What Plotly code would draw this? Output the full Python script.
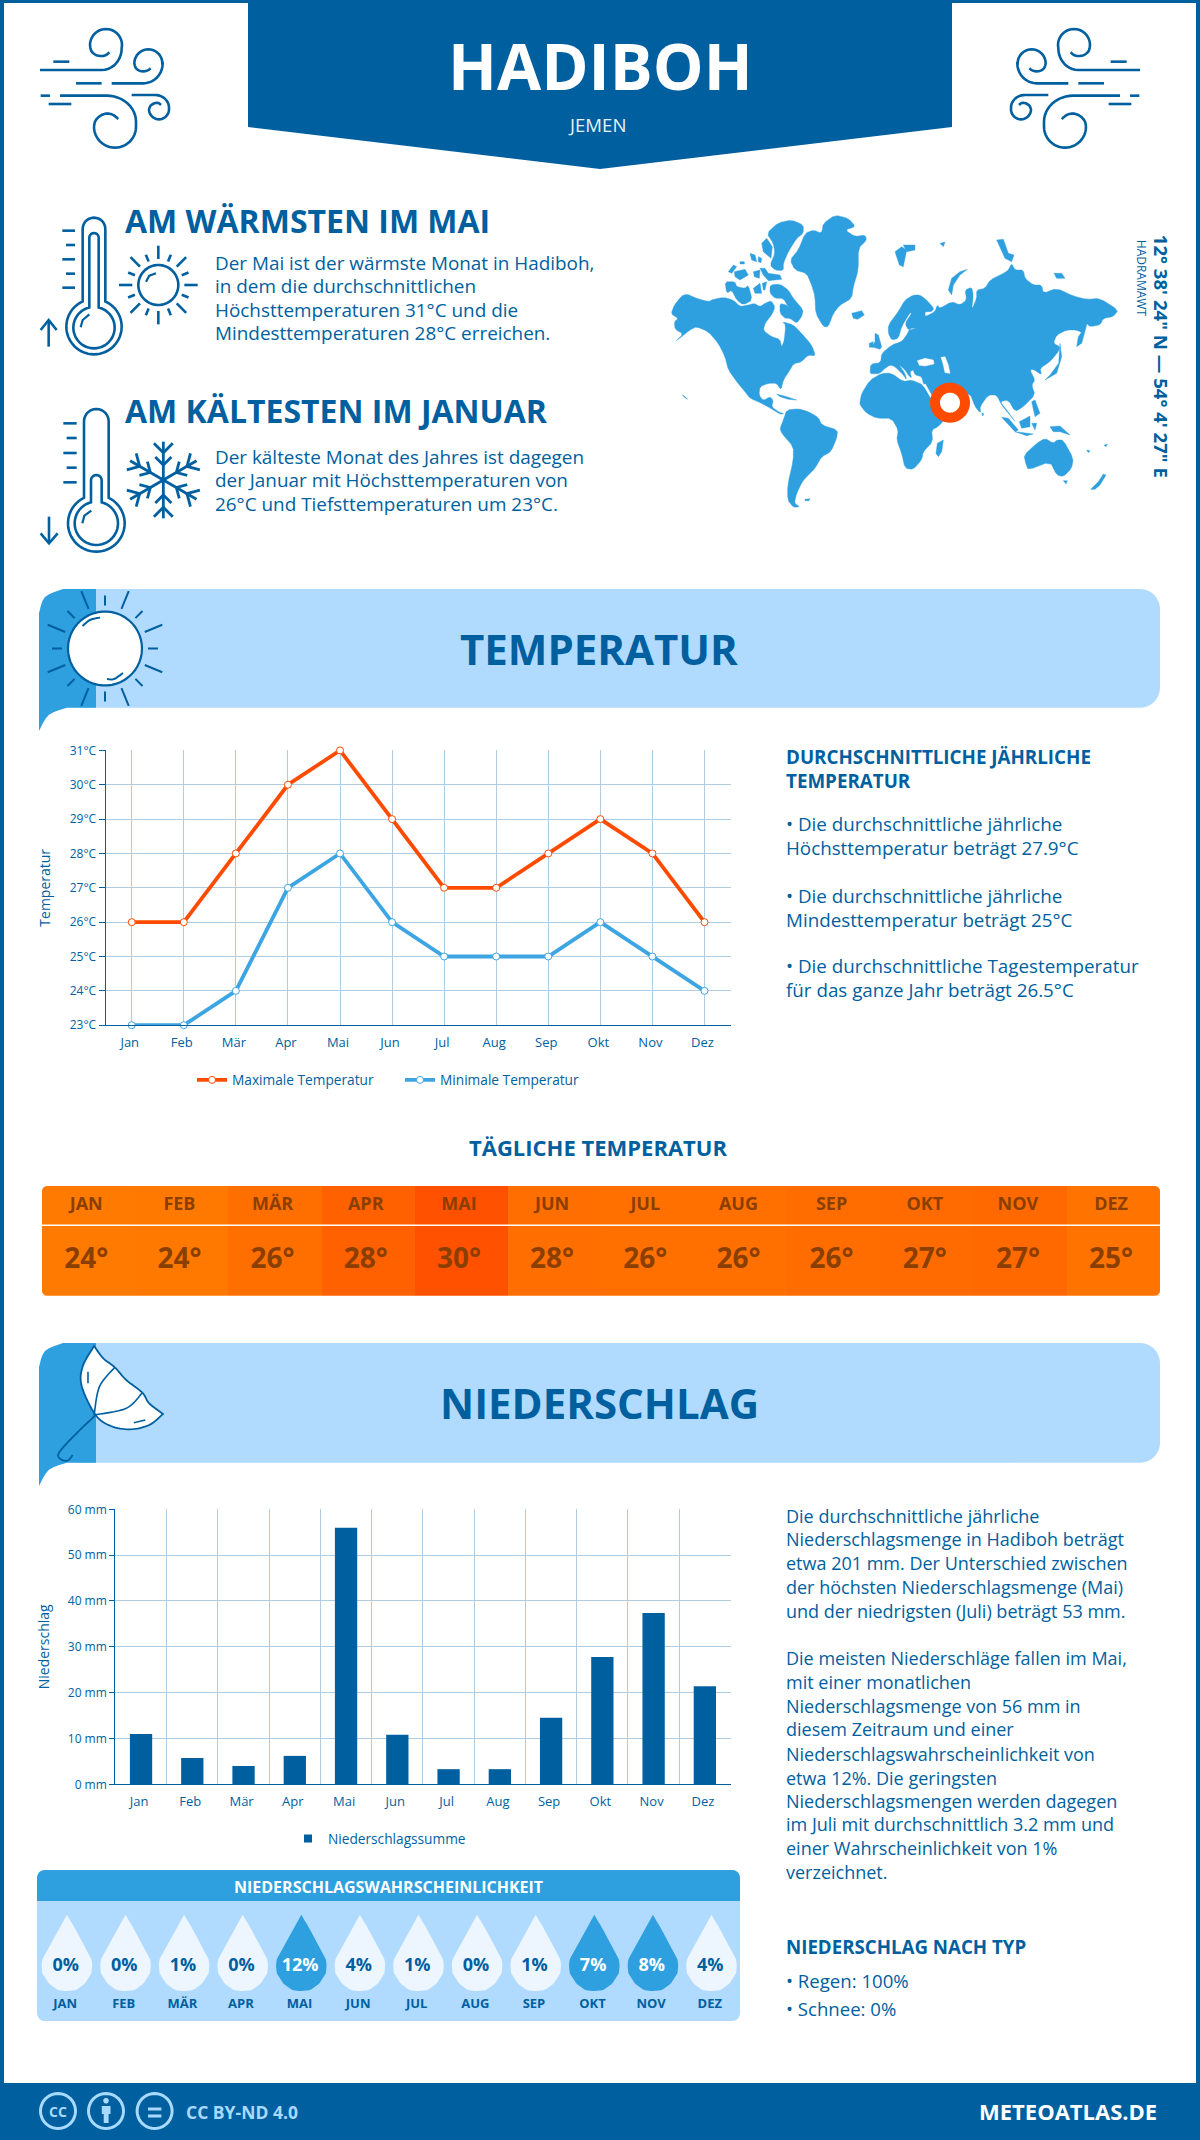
import math
import plotly.graph_objects as go

# ---------- data ----------
MONTHS = ["Jan", "Feb", "Mär", "Apr", "Mai", "Jun", "Jul", "Aug", "Sep", "Okt", "Nov", "Dez"]
MONTHS_UP = ["JAN", "FEB", "MÄR", "APR", "MAI", "JUN", "JUL", "AUG", "SEP", "OKT", "NOV", "DEZ"]
TEMP_MAX = [26, 26, 28, 30, 31, 29, 27, 27, 28, 29, 28, 26]
TEMP_MIN = [23, 23, 24, 27, 28, 26, 25, 25, 25, 26, 25, 24]
DAILY = [24, 24, 26, 28, 30, 28, 26, 26, 26, 27, 27, 25]
DAILY_HEAT = [24.0, 24.1, 25.6, 27.7, 29.9, 25.7, 25.4, 25.4, 25.9, 26.2, 26.5, 24.9]
PRECIP = [11.0, 5.75, 4.0, 6.2, 56.0, 10.8, 3.3, 3.3, 14.5, 27.8, 37.4, 21.4]
PROB = [0, 0, 1, 0, 12, 4, 1, 0, 1, 7, 8, 4]

DARK = "#005F9F"
MID = "#2E9FDF"
LIGHT = "#B0DBFF"
ORANGE = "#FF4B00"
LINEBLUE = "#3CA5E2"
GRID = "#AECDE3"
FONT = "Open Sans"
W, H = 1200, 2140

shapes = []
annots = []


def fx(x):
    return round(x / W, 6)


def fy(y):
    return round(1 - y / H, 6)


def path_str(pts, closed=False):
    s = "M" + " L".join(f"{fx(x)},{fy(y)}" for x, y in pts)
    return s + (" Z" if closed else "")


def add_path(pts, fill=None, line=None, width=0, closed=None, layer="below"):
    closed = (fill is not None) if closed is None else closed
    shapes.append(dict(type="path", xref="paper", yref="paper", layer=layer,
                       path=path_str(pts, closed),
                       fillcolor=fill if fill else "rgba(0,0,0,0)",
                       line=dict(color=line if line else "rgba(0,0,0,0)", width=width)))


def chaikin(p):
    if len(p) < 8:
        return p
    out = []
    for i in range(len(p)):
        a, b = p[i], p[(i + 1) % len(p)]
        out.append((0.8 * a[0] + 0.2 * b[0], 0.8 * a[1] + 0.2 * b[1]))
        out.append((0.2 * a[0] + 0.8 * b[0], 0.2 * a[1] + 0.8 * b[1]))
    return out


def add_multi(polys, fill, layer="below"):
    for p in polys:
        shapes.append(dict(type="path", xref="paper", yref="paper", layer=layer,
                           path=path_str(chaikin(p), True), fillcolor=fill, line=dict(color=fill, width=0.4)))


def rect(x0, y0, x1, y1, fill, layer="below"):
    shapes.append(dict(type="rect", xref="paper", yref="paper", layer=layer,
                       x0=fx(x0), x1=fx(x1), y0=fy(y1), y1=fy(y0),
                       fillcolor=fill, line=dict(width=0)))


def arc(cx, cy, r, a0, a1, n=28, ry=None):
    ry = r if ry is None else ry
    return [(cx + r * math.cos(math.radians(a0 + (a1 - a0) * i / n)),
             cy + ry * math.sin(math.radians(a0 + (a1 - a0) * i / n))) for i in range(n + 1)]


def smooth(pts, k=8):
    out = []
    n = len(pts)
    for i in range(n - 1):
        p0 = pts[max(i - 1, 0)]
        p1 = pts[i]
        p2 = pts[i + 1]
        p3 = pts[min(i + 2, n - 1)]
        for j in range(k):
            t = j / k
            out.append(tuple(0.5 * (2 * p1[c] + (-p0[c] + p2[c]) * t +
                                    (2 * p0[c] - 5 * p1[c] + 4 * p2[c] - p3[c]) * t * t +
                                    (-p0[c] + 3 * p1[c] - 3 * p2[c] + p3[c]) * t ** 3) for c in (0, 1)))
    out.append(pts[-1])
    return out


def T(x, y, text, size, color=DARK, bold=False, anchor="left", angle=0, family=FONT):
    annots.append(dict(xref="paper", yref="paper", x=fx(x), y=fy(y), text=text, showarrow=False,
                       xanchor=anchor, yanchor="middle", textangle=angle,
                       font=dict(family=family, size=size, color=color, weight=700 if bold else 400),
                       borderpad=0, borderwidth=0))


def rrect_pts(x0, y0, x1, y1, r):
    return (arc(x1 - r, y0 + r, r, -90, 0, 8) + arc(x1 - r, y1 - r, r, 0, 90, 8) +
            arc(x0 + r, y1 - r, r, 90, 180, 8) + arc(x0 + r, y0 + r, r, 180, 270, 8))


# ---------- frame & header ----------
rect(0, 0, 4, 2090, DARK)
rect(0, 0, 1200, 3, DARK)
rect(1196, 0, 1200, 2090, DARK)
rect(0, 2083, 1200, 2140, DARK)
add_path([(248, 0), (952, 0), (952, 127), (600, 169), (248, 127)], fill=DARK)
T(600, 66, "HADIBOH", 64, "#FFFFFF", True, "center")
T(597, 124, "JEMEN", 18.6, "#E6F2FB", False, "center")


# ---------- wind icons ----------
WIND = [
    [(60, 165), (245, 165)] + arc(245, 100, 60, 90, 0, 10, ry=65) + arc(258, 90, 48, 0, -180, 20) +
    smooth([(210, 90), (214, 108), (228, 120), (245, 123), (258, 120), (268, 112)]),
    [(275, 205), (370, 205)] + arc(370, 145, 58, 90, 0, 10, ry=60) + arc(385, 145, 42, 0, -180, 20) +
    smooth([(343, 145), (347, 158), (358, 167), (372, 169), (383, 166), (392, 160)]),
    [(120, 242), (260, 242)] + arc(260, 320, 88, -90, 0, 12, ry=78) + arc(285, 335, 63, 0, 180, 24) +
    smooth([(222, 335), (226, 318), (240, 303), (258, 296), (278, 299), (295, 312)]),
    [(335, 240), (405, 240)] + arc(405, 278, 42, -90, 0, 10, ry=38) + arc(417, 283, 30, 0, 180, 18) +
    smooth([(387, 283), (392, 272), (403, 265), (415, 264), (423, 270)]),
]
WIND_LINES = [[(100, 140), (148, 140)], [(168, 205), (245, 205)], [(62, 242), (90, 242)], [(86, 267), (154, 267)]]
for mirror in (False, True):
    def zw(p):
        x = 20 + p[0] / 3
        return (1180 - x if mirror else x, 15 + p[1] / 3)
    for s in WIND + WIND_LINES:
        add_path([zw(p) for p in s], line=DARK, width=2.6)


# ---------- thermometers ----------
def z10(pts):
    return [(30 + x / 3, 205 + y / 3) for x, y in pts]


def thermo(cx, bulb_y, tube_top, tube_r, bulb_r, in_top, in_r, in_bulb, in_cy=None):
    in_cy = bulb_y if in_cy is None else in_cy
    a = math.degrees(math.asin(tube_r / bulb_r))
    outer = [(cx - tube_r, tube_top + tube_r)] + arc(cx, tube_top + tube_r, tube_r, 180, 360, 14) + \
        arc(cx, bulb_y, bulb_r, -90 + a, 270 - a, 50)
    a2 = math.degrees(math.asin(in_r / in_bulb))
    inner = arc(cx, in_top + in_r, in_r, 180, 360, 10) + arc(cx, in_cy, in_bulb, -90 + a2, 270 - a2, 44)
    add_path(z10(outer), line=DARK, width=2.6, closed=True)
    add_path(z10(inner), line=DARK, width=2.6, closed=True)


thermo(192, 365, 38, 34, 83, 84, 14, 62, 368)
add_path(z10([(152, 367), (158, 345), (178, 328)]), line=DARK, width=2.2)
for seg in [[(97, 77), (135, 77)], [(108, 120), (135, 120)], [(97, 163), (135, 163)], [(108, 206), (135, 206)],
            [(97, 248), (135, 248)], [(56, 425), (56, 345)], [(32, 375), (56, 345), (80, 375)]]:
    add_path(z10(seg), line=DARK, width=2.6)
add_path(z10(arc(385, 240, 60, 0, 360, 50)), line=DARK, width=2.6, closed=True)
add_path(z10([(348, 230), (358, 212), (378, 205)]), line=DARK, width=2.2)
for i in range(16):
    a = math.radians(i * 22.5)
    r0, r1 = (78, 118) if i % 2 == 0 else (76, 98)
    add_path(z10([(385 + r0 * math.cos(a), 240 + r0 * math.sin(a)), (385 + r1 * math.cos(a), 240 + r1 * math.sin(a))]),
             line=DARK, width=2.6)

thermo(199, 955, 612, 37, 85, 810, 16, 65)
add_path(z10([(157, 955), (163, 932), (184, 917)]), line=DARK, width=2.2)
for seg in [[(100, 655), (140, 655)], [(110, 699), (140, 699)], [(100, 744), (140, 744)], [(110, 788), (140, 788)],
            [(100, 832), (140, 832)], [(57, 935), (57, 1015)], [(32, 985), (57, 1015), (83, 985)]]:
    add_path(z10(seg), line=DARK, width=2.6)
for i in range(6):
    a = math.radians(90 + i * 60)
    ux, uy = math.cos(a), math.sin(a)
    add_path(z10([(400, 825), (400 + 115 * ux, 825 + 115 * uy)]), line=DARK, width=2.8)
    for base, ln in ((82, 40), (45, 34)):
        for s in (-1, 1):
            b = a + s * math.radians(45)
            bx, by = 400 + base * ux, 825 + base * uy
            add_path(z10([(bx, by), (bx + ln * math.cos(b), by + ln * math.sin(b))]), line=DARK, width=2.8)

T(125, 221, "AM WÄRMSTEN IM MAI", 32, DARK, True)
for y, t in zip((262.5, 286, 310, 333.5),
                ("Der Mai ist der wärmste Monat in Hadiboh,", "in dem die durchschnittlichen",
                 "Höchsttemperaturen 31°C und die", "Mindesttemperaturen 28°C erreichen.")):
    T(215, y, t, 18.9)
T(125, 411, "AM KÄLTESTEN IM JANUAR", 32, DARK, True)
for y, t in zip((457, 480, 503.6),
                ("Der kälteste Monat des Jahres ist dagegen", "der Januar mit Höchsttemperaturen von",
                 "26°C und Tiefsttemperaturen um 23°C.")):
    T(215, y, t, 18.9)

# ---------- world map (traced outlines) ----------
AM = [
    # North America
    [(18, 312), (28, 285), (50, 258), (65, 252), (95, 265), (130, 275), (145, 268), (175, 262), (205, 270), (225, 290), (250, 285),
     (268, 280), (285, 290), (300, 280), (318, 272), (330, 290), (322, 312), (300, 340), (295, 362), (320, 380), (345, 388), (350, 412),
     (358, 390), (362, 345), (352, 335), (385, 345), (405, 365), (440, 405), (452, 438), (430, 435), (410, 455), (385, 462), (375, 480),
     (355, 510), (348, 540), (335, 520), (310, 520), (285, 530), (282, 555), (295, 572), (315, 560), (325, 572), (320, 590), (340, 605),
     (358, 612), (345, 612), (320, 597), (290, 580), (255, 565), (240, 545), (215, 515), (190, 480), (180, 440), (160, 400), (130, 365),
     (95, 350), (75, 360), (50, 380), (30, 395), (55, 372), (30, 358), (28, 335), (40, 325)],
    # Baffin
    [(315, 225), (345, 222), (370, 240), (385, 265), (415, 300), (410, 320), (395, 340), (375, 325), (360, 325), (345, 310), (345, 280),
     (365, 285), (372, 295), (355, 265), (330, 265), (315, 250)],
    # Ellesmere etc.
    [(305, 70), (340, 38), (380, 30), (415, 45), (415, 70), (395, 85), (370, 125), (355, 160), (355, 182), (330, 180), (315, 165), (330, 130), (325, 100)],
    [(290, 100), (305, 85), (322, 110), (318, 145), (295, 125)],
    # Greenland
    [(375, 150), (400, 120), (420, 70), (445, 60), (470, 70), (475, 40), (510, 15), (550, 25), (572, 50), (540, 60), (570, 80), (600, 75),
     (605, 90), (580, 115), (580, 180), (565, 230), (560, 265), (525, 285), (505, 310), (490, 350), (475, 350), (452, 310), (450, 260),
     (440, 225), (425, 190), (390, 180)],
    # Iceland
    [(560, 310), (590, 302), (598, 315), (578, 328), (565, 325)],
    # Arctic islands
    [(190, 185), (205, 165), (215, 170), (200, 190)],
    [(208, 185), (240, 178), (250, 195), (225, 210), (210, 200)],
    [(265, 185), (285, 180), (283, 205), (268, 200)],
    [(285, 175), (300, 175), (310, 190), (345, 195), (350, 208), (310, 212), (295, 195)],
    [(180, 215), (210, 215), (215, 230), (240, 235), (250, 225), (262, 270), (235, 285), (215, 270), (200, 240), (185, 250)],
    [(265, 235), (285, 220), (290, 250), (270, 250)],
    [(292, 220), (305, 215), (300, 240), (295, 240)],
    [(255, 130), (270, 135), (275, 155), (260, 150)],
    [(225, 155), (238, 155), (238, 162), (225, 162)],
    [(280, 140), (290, 145), (288, 158), (280, 155)],
    # Caribbean, Hawaii
    [(335, 552), (365, 560), (395, 570), (370, 568), (345, 560)],
    [(52, 555), (58, 558), (68, 568), (60, 563)],
    # South America
    [(345, 655), (355, 630), (365, 600), (400, 596), (430, 605), (460, 622), (470, 645), (518, 660), (515, 685), (498, 725), (470, 740),
     (450, 775), (430, 795), (412, 815), (395, 850), (388, 880), (405, 890), (385, 892), (368, 870), (368, 825), (385, 750), (385, 710), (350, 670)],
    [(420, 868), (435, 866), (432, 872), (420, 872)],
]
EA = [
    # Eurasia
    [(30, 490), (32, 462), (62, 458), (65, 430), (95, 405), (125, 395), (140, 375), (150, 355), (170, 355), (145, 360), (135, 340), (155, 310),
     (150, 308), (125, 350), (115, 385), (95, 390), (85, 370), (85, 345), (115, 305), (135, 270), (160, 255), (180, 255), (200, 270), (222, 295),
     (215, 305), (195, 305), (195, 320), (225, 305), (232, 285), (240, 295), (275, 275), (300, 285), (320, 270), (315, 240), (335, 232), (340, 255),
     (335, 300), (350, 265), (350, 240), (375, 235), (390, 210), (430, 190), (445, 180), (455, 160), (465, 180), (490, 180), (495, 205), (520, 225),
     (545, 225), (550, 250), (590, 235), (640, 258), (680, 268), (720, 265), (775, 300), (760, 320), (730, 325), (720, 345), (690, 350), (680, 340),
     (670, 370), (650, 360), (620, 360), (590, 375), (580, 400), (600, 410), (595, 425), (570, 455), (540, 475), (545, 495), (520, 478), (510, 480),
     (525, 510), (515, 525), (525, 555), (490, 590), (465, 605), (445, 570), (420, 575), (440, 600), (470, 640), (445, 610), (425, 585), (410, 555),
     (385, 555), (360, 590), (362, 610), (345, 590), (330, 550), (300, 560), (330, 570), (300, 590), (260, 620), (240, 590), (215, 560), (190, 520),
     (185, 500), (165, 495), (160, 480), (150, 485), (155, 505), (145, 495), (135, 480), (115, 462), (135, 490), (140, 510), (130, 495), (105, 470),
     (90, 465), (75, 475), (60, 490), (40, 492)],
    # Africa
    [(0, 575), (5, 550), (30, 510), (65, 490), (95, 490), (130, 515), (155, 510), (190, 525), (215, 570), (240, 595), (260, 620), (235, 650), (215, 660),
     (218, 695), (190, 725), (185, 750), (160, 778), (135, 775), (125, 730), (110, 690), (115, 660), (95, 625), (50, 625), (20, 610), (0, 585)],
    # Madagascar
    [(232, 700), (250, 690), (245, 725), (235, 740), (228, 730)],
    # Britain, Ireland
    [(45, 370), (55, 375), (65, 410), (60, 418), (35, 410), (45, 395)],
    [(28, 400), (40, 395), (38, 412), (28, 412)],
    # Arctic
    [(105, 125), (125, 110), (140, 120), (130, 170), (118, 165)],
    [(130, 105), (165, 105), (165, 120), (140, 125)],
    [(240, 100), (255, 96), (250, 110)],
    [(265, 240), (275, 205), (300, 185), (322, 178), (300, 195), (280, 225), (275, 255)],
    [(410, 90), (430, 88), (445, 130), (462, 135), (455, 155), (435, 145)],
    [(582, 190), (605, 190), (615, 205), (590, 205)],
    # East Asia
    [(650, 410), (655, 380), (680, 345), (672, 375), (665, 400)],
    [(555, 510), (590, 490), (605, 440), (600, 400), (596, 460), (570, 495)],
    [(365, 608), (372, 612), (368, 618)],
    [(515, 575), (525, 570), (540, 610), (525, 620)],
    [(515, 545), (522, 545), (518, 560)],
    [(425, 622), (445, 625), (475, 660), (465, 665)],
    [(465, 665), (520, 672), (500, 677)],
    [(478, 635), (510, 618), (510, 650), (485, 655)],
    [(515, 640), (530, 640), (525, 660)],
    [(570, 650), (600, 648), (630, 675), (600, 665), (580, 665)],
    # Oceania
    [(492, 735), (530, 700), (555, 685), (580, 700), (590, 690), (610, 690), (640, 745), (635, 775), (610, 800), (590, 795), (570, 755), (505, 780), (497, 760)],
    [(610, 812), (622, 812), (618, 822)],
    [(692, 838), (715, 815), (730, 792), (738, 795), (720, 825), (705, 838)],
    [(680, 720), (690, 722), (685, 728)],
    [(732, 706), (742, 702), (738, 710)],
]
SEAS = [
    [(172, 452), (195, 445), (220, 450), (222, 462), (195, 468), (178, 466)],
    [(243, 442), (255, 440), (265, 465), (270, 490), (255, 488), (250, 465)],
    [(190, 525), (196, 522), (216, 558), (212, 562)],
]
m_polys = [[(665 + x / 3, 210 + y / 3) for x, y in p] for p in AM] + [[(860 + x / 3, 210 + y / 3) for x, y in p] for p in EA]
add_multi(m_polys, MID)
add_multi([[(860 + x / 3, 210 + y / 3) for x, y in p] for p in SEAS], "#FFFFFF")
add_path(arc(950, 402.7, 15, 0, 360, 48), fill="#FFFFFF", line=ORANGE, width=10, closed=True)
T(1161.7, 356.5, "12° 38' 24\" N — 54° 4' 27\" E", 18.6, DARK, True, "center", 90)
T(1141.7, 278.5, "HADRAMAWT", 12, DARK, False, "center", 90)


# ---------- section bands ----------
def band(y0, y1, tail):
    x0, x1, tab = 39, 1160, 96
    add_path([(x0 + 40, y0)] + arc(x1 - 20, y0 + 20, 20, -90, 0, 10) + arc(x1 - 20, y1 - 20, 20, 0, 90, 10) + [(x0 + 40, y1)],
             fill=LIGHT)
    add_path(smooth([(x0, y0 + 24), (x0 + 6, y0 + 8), (x0 + 24, y0)], 4) + [(tab, y0), (tab, y1), (x0 + 28, y1)] +
             smooth([(x0 + 28, y1), (x0 + 10, y1 + 7), (x0, tail)], 4), fill=MID)


band(589, 707.7, 731)
band(1343, 1462.7, 1486)
T(599, 648, "TEMPERATUR", 42, DARK, True, "center")
T(599, 1403, "NIEDERSCHLAG", 42, DARK, True, "center")

# sun icon
add_path(arc(105, 648.5, 37, 0, 360, 50), fill="#FFFFFF", line=DARK, width=2.2, closed=True)
add_path(smooth([(82.5, 626), (90, 620), (100, 617.5)]), line=DARK, width=2)
add_path(smooth([(107, 679), (114, 679), (123, 673)]), line=DARK, width=2)
for i in range(16):
    a = math.radians(-90 + i * 22.5)
    r0, r1 = (43, 53) if i % 2 == 0 else (43, 62)
    add_path([(105 + r0 * math.cos(a), 648.5 + r0 * math.sin(a)), (105 + r1 * math.cos(a), 648.5 + r1 * math.sin(a))],
             line=DARK, width=2)


# umbrella icon
def z3(pts):
    return [(x / 1.307, 1120 + y / 3) for x, y in pts]


add_path(z3(smooth([(123, 678), (108, 740), (107, 800), (125, 885), (145, 918), (170, 928), (195, 915), (213, 882)]) +
            smooth([(213, 882), (195, 850), (186, 818), (165, 780), (150, 742), (135, 715), (123, 678)])),
         fill="#FFFFFF", line=DARK, width=1.8)
add_path(z3(smooth([(150, 742), (130, 800), (123, 885)])), line=DARK, width=1.6)
add_path(z3(smooth([(186, 818), (165, 865), (123, 885)])), line=DARK, width=1.6)
add_path(z3(smooth([(125, 885), (100, 940), (78, 995), (78, 1015), (88, 1022), (95, 1005)])), line=DARK, width=1.8)
add_path(z3([(115, 755), (115, 790)]), line=DARK, width=1.6)
add_path(z3([(175, 908), (190, 900)]), line=DARK, width=1.6)

# ---------- right column texts ----------
T(785.7, 757.3, "DURCHSCHNITTLICHE JÄHRLICHE", 18.8, DARK, True)
T(785.7, 780.7, "TEMPERATUR", 18.8, DARK, True)
for y, t in zip((824.3, 848, 895.5, 920, 966, 990),
                ("• Die durchschnittliche jährliche", "Höchsttemperatur beträgt 27.9°C",
                 "• Die durchschnittliche jährliche", "Mindesttemperatur beträgt 25°C",
                 "• Die durchschnittliche Tagestemperatur", "für das ganze Jahr beträgt 26.5°C")):
    T(785.7, y, t, 18.8)
T(598, 1147, "TÄGLICHE TEMPERATUR", 22, DARK, True, "center")

for y, t in zip((1515.5, 1539, 1563, 1587, 1611, 1657.5, 1682, 1706, 1729.4, 1753.5, 1777.6, 1801, 1824.5, 1848, 1872),
                ("Die durchschnittliche jährliche", "Niederschlagsmenge in Hadiboh beträgt",
                 "etwa 201 mm. Der Unterschied zwischen", "der höchsten Niederschlagsmenge (Mai)",
                 "und der niedrigsten (Juli) beträgt 53 mm.", "Die meisten Niederschläge fallen im Mai,",
                 "mit einer monatlichen", "Niederschlagsmenge von 56 mm in", "diesem Zeitraum und einer",
                 "Niederschlagswahrscheinlichkeit von", "etwa 12%. Die geringsten",
                 "Niederschlagsmengen werden dagegen", "im Juli mit durchschnittlich 3.2 mm und",
                 "einer Wahrscheinlichkeit von 1%", "verzeichnet.")):
    T(785.7, y, t, 18)
T(785.7, 1947, "NIEDERSCHLAG NACH TYP", 18.7, DARK, True)
T(785.7, 1980, "• Regen: 100%", 18.6)
T(785.7, 2009, "• Schnee: 0%", 18.6)

# ---------- probability panel background ----------
add_path(rrect_pts(37, 1870, 740, 2021, 8), fill=LIGHT)
add_path(arc(45, 1878, 8, 180, 270, 6) + arc(732, 1878, 8, 270, 360, 6) + [(740, 1901), (37, 1901)], fill=MID)
T(388.7, 1887, "NIEDERSCHLAGSWAHRSCHEINLICHKEIT", 16, "#FFFFFF", True, "center")

# ---------- footer ----------
CCLIGHT = "#A8DAFF"
for cx in (58, 106, 154.6):
    add_path(arc(cx, 2111, 17.5, 0, 360, 40), line=CCLIGHT, width=3, closed=True)
T(58, 2111, "CC", 14, CCLIGHT, True, "center")
add_path(arc(106, 2100.7, 2.8, 0, 360, 14), fill=CCLIGHT)
add_path([(101.8, 2106), (110.5, 2106), (110.5, 2114), (108.6, 2114), (108.6, 2123), (103.7, 2123), (103.7, 2114), (101.8, 2114)], fill=CCLIGHT)
rect(148, 2107.5, 161.4, 2110.5, CCLIGHT)
rect(148, 2114.5, 161.4, 2117.5, CCLIGHT)
T(185.6, 2111.7, "CC BY-ND 4.0", 17.5, CCLIGHT, True)
T(1157, 2111, "METEOATLAS.DE", 22, "#FFFFFF", True, "right")

# white line across daily table, rounded table corners
rect(42, 1224.6, 1160, 1226, "#FFFFFF", layer="above")
TB = (42, 1186, 1160, 1295.7)
CR = 5
for cx, cy, ax, ay, a0 in ((TB[0], TB[1], TB[0] + CR, TB[1] + CR, 180), (TB[2], TB[1], TB[2] - CR, TB[1] + CR, 270),
                           (TB[2], TB[3], TB[2] - CR, TB[3] - CR, 0), (TB[0], TB[3], TB[0] + CR, TB[3] - CR, 90)):
    add_path([(cx, cy)] + arc(ax, ay, CR, a0, a0 + 90, 6), fill="#FFFFFF", layer="above")

# ---------- figure ----------
fig = go.Figure()
X = list(range(12))

fig.add_trace(go.Scatter(x=X, y=TEMP_MAX, name="Maximale Temperatur", mode="lines+markers", cliponaxis=False,
                         line=dict(color=ORANGE, width=3.8),
                         marker=dict(size=7, color="#FFFFFF", line=dict(color=ORANGE, width=1)),
                         xaxis="x", yaxis="y", legend="legend"))
fig.add_trace(go.Scatter(x=X, y=TEMP_MIN, name="Minimale Temperatur", mode="lines+markers", cliponaxis=False,
                         line=dict(color=LINEBLUE, width=3.8),
                         marker=dict(size=7, color="#FFFFFF", line=dict(color=LINEBLUE, width=1)),
                         xaxis="x", yaxis="y", legend="legend"))

fig.add_trace(go.Heatmap(x=X, y=[0.5], z=[DAILY_HEAT], zmin=24, zmax=30, showscale=False,
                         colorscale=[[0, "#FF7A00"], [1, "#FF5000"]], xaxis="x2", yaxis="y2", hoverinfo="skip"))
TXT = "#8A3F00"
XT = [i - 0.025 for i in X]
fig.add_trace(go.Scatter(x=XT, y=[0.82] * 12, mode="text", text=MONTHS_UP, showlegend=False, xaxis="x2", yaxis="y2",
                         textfont=dict(family=FONT, size=18, color=TXT, weight=700)))
fig.add_trace(go.Scatter(x=XT, y=[0.318] * 12, mode="text", text=[f"{v}°" for v in DAILY], showlegend=False,
                         xaxis="x2", yaxis="y2", textfont=dict(family=FONT, size=28, color=TXT, weight=700)))

fig.add_trace(go.Bar(x=X, y=PRECIP, name="Niederschlagssumme", width=0.435, marker=dict(color=DARK, line=dict(width=0)),
                     xaxis="x3", yaxis="y3", showlegend=False))
fig.add_trace(go.Scatter(x=[None], y=[None], name="Niederschlagssumme", mode="markers",
                         marker=dict(symbol="square", size=8, color=DARK),
                         xaxis="x3", yaxis="y3", legend="legend2"))

# rain-probability drops
DROP_DX = [0, 3.2, 7.3, 12, 16.5, 21, 24.7, 25.2, 24.6, 22.5, 18.5, 14, 8, 0]
DROP_DY = [-52, -46, -40, -31, -23, -14, -6.7, 0, 6, 10, 16, 20, 23.5, 24.3]
STEP = 58.6


def drops(idx):
    xs, ys = [], []
    for i in idx:
        side = [(i + dx / STEP, 65.7 + dy) for dx, dy in zip(DROP_DX, DROP_DY)]
        other = [(i - dx / STEP, 65.7 + dy) for dx, dy in zip(DROP_DX[::-1], DROP_DY[::-1])]
        pts = smooth(side, 3) + smooth(other, 3)
        xs += [p[0] for p in pts] + [None]
        ys += [p[1] for p in pts] + [None]
    return xs, ys


for cond, col in ((lambda v: v < 7, "#EDF6FF"), (lambda v: v >= 7, MID)):
    xs, ys = drops([i for i, v in enumerate(PROB) if cond(v)])
    fig.add_trace(go.Scatter(x=xs, y=ys, mode="lines", fill="toself", fillcolor=col, line=dict(width=0, color=col),
                             showlegend=False, xaxis="x4", yaxis="y4", hoverinfo="skip"))
XD = [i - 0.02 for i in X]
fig.add_trace(go.Scatter(x=XD, y=[65.7] * 12, mode="text", text=[f"{v}%" for v in PROB], showlegend=False,
                         xaxis="x4", yaxis="y4",
                         textfont=dict(family=FONT, size=18, weight=700,
                                       color=["#FFFFFF" if v >= 7 else DARK for v in PROB])))
fig.add_trace(go.Scatter(x=[i - 0.03 for i in X], y=[103.7] * 12, mode="text", text=MONTHS_UP, showlegend=False, xaxis="x4", yaxis="y4",
                         textfont=dict(family=FONT, size=13, weight=700, color=DARK)))

xtickf = dict(family=FONT, size=13, color=DARK)
ytickf = dict(family=FONT, size=12, color=DARK)
titlef = dict(family=FONT, size=14, color=DARK)


def dom_x(a, b):
    return [a / W, b / W]


def dom_y(top, bottom):
    return [1 - bottom / H, 1 - top / H]


fig.update_layout(
    width=W, height=H, margin=dict(l=0, r=0, t=0, b=0), autosize=False,
    paper_bgcolor="#FFFFFF", plot_bgcolor="rgba(0,0,0,0)", template="none",
    shapes=shapes, annotations=annots, font=dict(family=FONT, color=DARK),
    hovermode=False,
    xaxis=dict(domain=dom_x(105.7, 730.5), anchor="y", range=[-0.5, 11.5], tickmode="array", tickvals=X, ticktext=MONTHS,
               showgrid=True, gridcolor=GRID, gridwidth=1, showline=True, linecolor=DARK, linewidth=1.3, ticks="",
               tickfont=xtickf, zeroline=False, ticklabelshift=-2, ticklabelstandoff=5),
    yaxis=dict(domain=dom_y(750.4, 1025.2), anchor="x", range=[23, 31], dtick=1, ticksuffix="°C", showgrid=True,
               gridcolor=GRID, gridwidth=1, showline=True, linecolor=DARK, linewidth=1.3, ticks="outside", ticklen=6,
               tickcolor=DARK, tickfont=ytickf, zeroline=False,
               title=dict(text="Temperatur", font=titlef, standoff=15)),
    xaxis2=dict(domain=dom_x(42, 1160), anchor="y2", range=[-0.5, 11.5], visible=False, fixedrange=True),
    yaxis2=dict(domain=dom_y(1186, 1295.7), anchor="x2", range=[0, 1], visible=False, fixedrange=True),
    xaxis3=dict(domain=dom_x(115.4, 730.5), anchor="y3", range=[-0.5, 11.5], tickmode="array", tickvals=X, ticktext=MONTHS,
                showgrid=False, showline=True, linecolor=DARK, linewidth=1.3, ticks="", tickfont=xtickf, zeroline=False,
                ticklabelshift=-2, ticklabelstandoff=5,
                minor=dict(tickmode="array", tickvals=[i + 0.5 for i in X[:-1]], showgrid=True, gridcolor=GRID, gridwidth=1, ticks="")),
    yaxis3=dict(domain=dom_y(1509.3, 1784.3), anchor="x3", range=[0, 60], dtick=10, ticksuffix=" mm", showgrid=True,
                gridcolor=GRID, gridwidth=1, showline=True, linecolor=DARK, linewidth=1.3, ticks="outside", ticklen=5,
                tickcolor=DARK, tickfont=ytickf, zeroline=False,
                title=dict(text="Niederschlag", font=titlef, standoff=14)),
    xaxis4=dict(domain=dom_x(37.6, 740.8), anchor="y4", range=[-0.5, 11.5], visible=False, fixedrange=True),
    yaxis4=dict(domain=dom_y(1901, 2021), anchor="x4", range=[120, 0], visible=False, fixedrange=True),
    legend=dict(orientation="h", x=192 / W, xanchor="left", y=1 - 1080 / H, yanchor="middle",
                font=dict(family=FONT, size=13.7, color=DARK), bgcolor="rgba(0,0,0,0)",
                entrywidth=163, entrywidthmode="pixels"),
    legend2=dict(orientation="h", x=288 / W, xanchor="left", y=1 - 1838.7 / H, yanchor="middle",
                 font=dict(family=FONT, size=13.7, color=DARK), bgcolor="rgba(0,0,0,0)"),
)

fig.write_html("out.html", config=dict(displayModeBar=False),
               post_script="document.body.style.margin='0';document.body.style.overflow='hidden';")
